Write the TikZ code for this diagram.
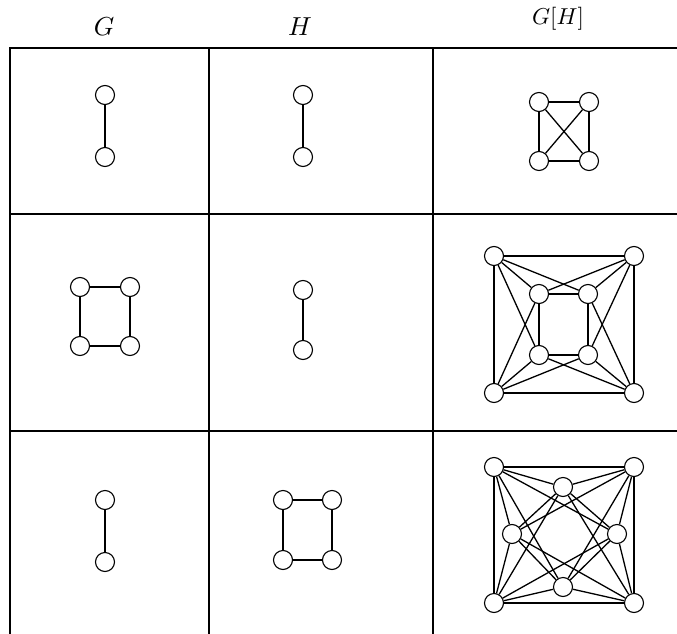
\documentclass[tikz,border=0pt]{standalone}
\begin{document}
\begin{tikzpicture}[x=1pt,y=-1pt,
  v/.style={circle,draw,fill=white,minimum size=19pt,inner sep=0pt,line width=1.1pt},
  ed/.style={line width=1.3pt},
  tbl/.style={line width=1.3pt},
  hd/.style={inner sep=0pt,scale=2.6},
  hds/.style={inner sep=0pt,scale=2.3}]
\useasboundingbox (0,0) rectangle (677,634);
% table
\draw[tbl] (10,634) -- (10,48) -- (677,48);
\draw[tbl] (10,214) -- (677,214);
\draw[tbl] (10,431) -- (677,431);
\draw[tbl] (209,48) -- (209,634);
\draw[tbl] (433,48) -- (433,634);
% headers
\node[hd] (hG) at (104,27) {$G$};
\node[hd] (hH) at (300,27) {$H$};
\node[hds] (hGH) at (558,19) {$G[H]$};
% row 1
\node[v] (a1) at (105,95) {};
\node[v] (a2) at (105,157) {};
\draw[ed] (a1) -- (a2);
\node[v] (b1) at (303,95) {};
\node[v] (b2) at (303,157) {};
\draw[ed] (b1) -- (b2);
\node[v] (k1) at (539,102) {};
\node[v] (k2) at (589,102) {};
\node[v] (k3) at (539,161) {};
\node[v] (k4) at (589,161) {};
\foreach \p/\q in {k1/k2,k2/k4,k4/k3,k3/k1,k1/k4,k2/k3} \draw[ed] (\p) -- (\q);
% row 2
\node[v] (g1) at (80,287) {};
\node[v] (g2) at (130,287) {};
\node[v] (g3) at (80,346) {};
\node[v] (g4) at (130,346) {};
\foreach \p/\q in {g1/g2,g2/g4,g4/g3,g3/g1} \draw[ed] (\p) -- (\q);
\node[v] (h1) at (303,290) {};
\node[v] (h2) at (303,350) {};
\draw[ed] (h1) -- (h2);
\node[v] (o1) at (494,256) {};
\node[v] (o2) at (634,256) {};
\node[v] (o3) at (494,393) {};
\node[v] (o4) at (634,393) {};
\node[v] (i1) at (539,294) {};
\node[v] (i2) at (588,294) {};
\node[v] (i3) at (539,355) {};
\node[v] (i4) at (588,355) {};
\foreach \x/\y in {1/2,2/4,4/3,3/1} {
  \draw[ed] (o\x) -- (o\y);
  \draw[ed] (i\x) -- (i\y);
  \draw[ed] (o\x) -- (i\y);
  \draw[ed] (i\x) -- (o\y);
}
\foreach \x in {1,2,3,4} \draw[ed] (o\x) -- (i\x);
% row 3
\node[v] (m1) at (105,500) {};
\node[v] (m2) at (105,562) {};
\draw[ed] (m1) -- (m2);
\node[v] (s1) at (283,500) {};
\node[v] (s2) at (332,500) {};
\node[v] (s3) at (283,560) {};
\node[v] (s4) at (332,560) {};
\foreach \p/\q in {s1/s2,s2/s4,s4/s3,s3/s1} \draw[ed] (\p) -- (\q);
\node[v] (c1) at (494,467) {};
\node[v] (c2) at (634,467) {};
\node[v] (c3) at (494,603) {};
\node[v] (c4) at (634,603) {};
\node[v] (dt) at (563,487) {};
\node[v] (dl) at (512,534) {};
\node[v] (dr) at (617,534) {};
\node[v] (db) at (563,587) {};
\foreach \p/\q in {c1/c2,c2/c4,c4/c3,c3/c1,dt/dr,dr/db,db/dl,dl/dt} \draw[ed] (\p) -- (\q);
\foreach \p in {c1,c2,c3,c4} \foreach \q in {dt,dl,dr,db} \draw[ed] (\p) -- (\q);
\end{tikzpicture}
\end{document}
